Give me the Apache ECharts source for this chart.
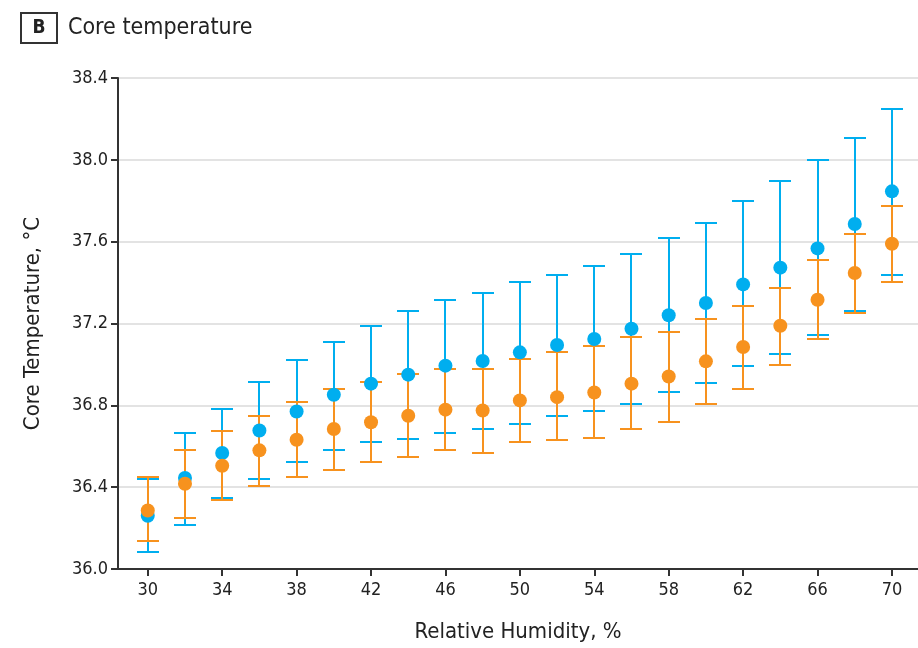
<!DOCTYPE html>
<html>
<head>
<meta charset="utf-8">
<script src="https://cdn.jsdelivr.net/npm/echarts@6/dist/echarts.min.js"></script>
<style>
html,body{margin:0;padding:0;background:#fff;}
#chart{width:918px;height:648px;}
</style>
</head>
<body>
<div id="chart"></div>
<script>
var humidity = [30,32,34,36,38,40,42,44,46,48,50,52,54,56,58,60,62,64,66,68,70];
var xTickLabels = [30,34,38,42,46,50,54,58,62,66,70];

var blueMean = [36.26,36.445,36.567,36.677,36.77,36.852,36.906,36.95,36.994,37.017,37.059,37.095,37.124,37.174,37.24,37.30,37.391,37.473,37.567,37.686,37.846];
var blueHigh = [36.44,36.665,36.782,36.915,37.023,37.112,37.186,37.259,37.313,37.349,37.404,37.438,37.482,37.538,37.618,37.691,37.799,37.898,37.997,38.105,38.248];
var blueLow  = [36.081,36.217,36.345,36.44,36.521,36.583,36.619,36.637,36.665,36.684,36.71,36.746,36.774,36.808,36.863,36.909,36.99,37.052,37.144,37.259,37.438];

var orangeMean = [36.286,36.417,36.505,36.58,36.632,36.684,36.717,36.749,36.779,36.775,36.824,36.84,36.863,36.906,36.941,37.015,37.085,37.189,37.316,37.447,37.59];
var orangeHigh = [36.45,36.583,36.676,36.746,36.818,36.88,36.915,36.955,36.98,36.98,37.026,37.062,37.088,37.134,37.16,37.223,37.287,37.375,37.512,37.639,37.772];
var orangeLow  = [36.135,36.249,36.339,36.404,36.45,36.485,36.521,36.547,36.583,36.567,36.622,36.629,36.638,36.684,36.72,36.808,36.88,36.999,37.124,37.251,37.404];

var BLUE = '#00AEEF';
var ORANGE = '#F7921E';
var FONT = '"DejaVu Sans Condensed","DejaVu Sans",sans-serif';

function errData(lo, hi) {
  return humidity.map(function (h, i) { return [h, lo[i], hi[i]]; });
}
function ptData(m) {
  return humidity.map(function (h, i) { return [h, m[i]]; });
}
function errSeries(lo, hi, color, z) {
  return {
    type: 'custom',
    data: errData(lo, hi),
    encode: { x: 0, y: [1, 2] },
    z: z,
    renderItem: function (params, api) {
      var x = api.value(0);
      var pLo = api.coord([x, api.value(1)]);
      var pHi = api.coord([x, api.value(2)]);
      var cx = Math.round(pLo[0]);
      var yLo = Math.round(pLo[1]);
      var yHi = Math.round(pHi[1]);
      var hw = 11;
      var style = { stroke: color, lineWidth: 2, fill: null };
      return {
        type: 'group',
        children: [
          { type: 'line', shape: { x1: cx, y1: yLo, x2: cx, y2: yHi }, style: style },
          { type: 'line', shape: { x1: cx - hw, y1: yLo, x2: cx + hw, y2: yLo }, style: style },
          { type: 'line', shape: { x1: cx - hw, y1: yHi, x2: cx + hw, y2: yHi }, style: style }
        ]
      };
    }
  };
}

var chart = echarts.init(document.getElementById('chart'), null, { renderer: 'canvas' });
chart.setOption({
  animation: false,
  backgroundColor: '#fff',
  grid: { left: 118, right: 0, top: 78, bottom: 79, containLabel: false },
  graphic: [
    { type: 'rect', shape: { x: 21, y: 13, width: 36, height: 30 }, style: { fill: '#fff', stroke: '#333', lineWidth: 2 } },
    { type: 'text', x: 39, y: 28, style: { text: 'B', font: 'bold 19px ' + FONT, fill: '#222', align: 'center', verticalAlign: 'middle' } },
    { type: 'text', x: 68, y: 28, style: { text: 'Core temperature', font: '23px ' + FONT, fill: '#222', align: 'left', verticalAlign: 'middle' } }
  ],
  xAxis: {
    type: 'value',
    min: 28.4,
    max: 71.4,
    name: 'Relative Humidity, %',
    nameLocation: 'middle',
    nameGap: 52,
    nameTextStyle: { fontFamily: FONT, fontSize: 22, color: '#222' },
    axisLine: { show: true, lineStyle: { color: '#333', width: 2 } },
    axisTick: { show: true, length: 7, lineStyle: { color: '#333', width: 2 }, customValues: xTickLabels },
    axisLabel: { customValues: xTickLabels, fontFamily: FONT, fontSize: 18, color: '#222', margin: 12 },
    splitLine: { show: false }
  },
  yAxis: {
    type: 'value',
    min: 36.0,
    max: 38.4,
    interval: 0.4,
    name: 'Core Temperature, °C',
    nameLocation: 'middle',
    nameGap: 74,
    nameTextStyle: { fontFamily: FONT, fontSize: 22, color: '#222' },
    axisLine: { show: true, lineStyle: { color: '#333', width: 2 } },
    axisTick: { show: true, length: 7, lineStyle: { color: '#333', width: 2 } },
    axisLabel: { fontFamily: FONT, fontSize: 18, color: '#222', margin: 10, formatter: function (v) { return v.toFixed(1); } },
    splitLine: { show: true, lineStyle: { color: '#e3e3e3', width: 2 } }
  },
  series: [
    errSeries(blueLow, blueHigh, BLUE, 2),
    errSeries(orangeLow, orangeHigh, ORANGE, 3),
    { type: 'scatter', data: ptData(blueMean), symbol: 'circle', symbolSize: 14, itemStyle: { color: BLUE, opacity: 1 }, z: 4 },
    { type: 'scatter', data: ptData(orangeMean), symbol: 'circle', symbolSize: 14, itemStyle: { color: ORANGE, opacity: 1 }, z: 5 }
  ]
});
</script>
</body>
</html>
